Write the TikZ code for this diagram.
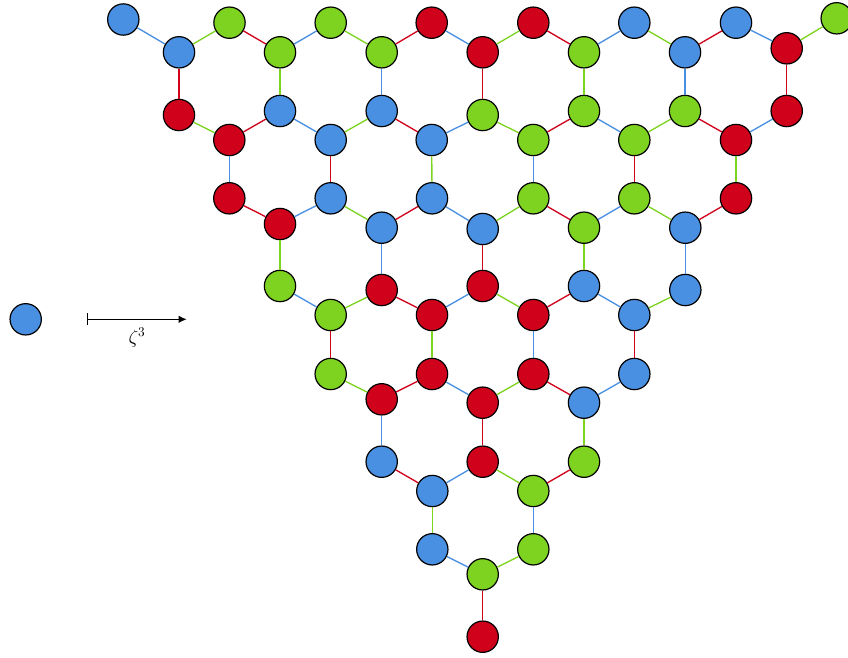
\documentclass[tikz,border=0pt]{standalone}
\usetikzlibrary{arrows.meta}

\definecolor{cblue}{HTML}{4A90E2}
\definecolor{cgreen}{HTML}{7ED321}
\definecolor{cred}{HTML}{D0021B}

\tikzset{
  site/.style={circle, draw=black, line width=0.9pt, minimum size=23.5pt, inner sep=0pt},
  bond/.style={line width=1pt},
}

\begin{document}
\begin{tikzpicture}[x=0.75pt, y=-0.75pt]
  \useasboundingbox (0,0) rectangle (848,657);

  % the lone site and the map
  \node[site, fill=cblue] (seed) at (25.7,319.3) {};
  \coordinate (mapfrom) at (87.3,319.3);
  \coordinate (mapto) at (186.7,319.3);
  \draw[line width=0.8pt, {Bar[width=9pt]}-{Latex[length=6pt,width=5.5pt]}] (mapfrom) -- node[below=3pt, font=\Large] {$\zeta^3$} (mapto);

  % sites of the patch: column/row/x/y/colour
  \foreach \c/\r/\x/\y/\col in {
      0/0/123.3/19.5/cblue, 2/0/229.5/22.7/cgreen, 4/0/330.7/22.7/cgreen, 6/0/431.7/22.7/cred,
      8/0/533.3/22.7/cred, 10/0/634.3/22.7/cblue, 12/0/736/22.7/cblue, 14/0/836.7/18.3/cgreen,
      1/1/179/52.3/cblue, 3/1/280/52.3/cgreen, 5/1/381.7/52.3/cgreen, 7/1/482.7/52.3/cred,
      9/1/584/52.3/cgreen, 11/1/685/52.3/cblue, 13/1/786.7/48.3/cred,
      1/2/179/115/cred, 3/2/280/111/cblue, 5/2/381.7/111/cblue, 7/2/482.7/115/cgreen,
      9/2/584/111/cgreen, 11/2/685/111/cgreen, 13/2/786.7/111/cred,
      2/3/229.3/140/cred, 4/3/330.7/140/cblue, 6/3/431.7/140/cblue, 8/3/533.3/140/cgreen,
      10/3/634.3/140/cgreen, 12/3/736/140/cred,
      2/4/229.3/198.3/cred, 4/4/330.7/198.3/cblue, 6/4/432/198.3/cblue, 8/4/533.3/198.3/cgreen,
      10/4/634.3/198.3/cgreen, 12/4/736/198.3/cred,
      3/5/280/224/cred, 5/5/381.7/227.7/cblue, 7/5/482.7/229/cblue, 9/5/584/227.7/cgreen,
      11/5/685.3/227.7/cblue,
      3/6/280/286/cgreen, 5/6/381.7/290/cred, 7/6/482.7/286/cred, 9/6/584/286/cblue,
      11/6/685.3/290/cblue,
      4/7/330.7/315/cgreen, 6/7/432/315/cred, 8/7/533.3/315/cred, 10/7/634.3/315/cblue,
      4/8/330.7/374/cgreen, 6/8/432/374/cred, 8/8/533.3/374/cred, 10/8/634.3/374/cblue,
      5/9/381.7/399.3/cred, 7/9/482.7/402.7/cred, 9/9/584/402.7/cblue,
      5/10/381.7/461.7/cblue, 7/10/482.7/461.7/cred, 9/10/584/461.7/cgreen,
      6/11/432.3/491/cblue, 8/11/533.3/491/cgreen,
      6/12/432.3/549.3/cblue, 8/12/533.3/549.3/cgreen,
      7/13/482.7/574.3/cgreen,
      7/14/482.7/636.7/cred}
    \node[site, fill=\col] (v\c-\r) at (\x,\y) {};

  % bonds
  \foreach \a/\b/\col in {
      v0-0/v1-1/cblue, v2-0/v1-1/cgreen, v2-0/v3-1/cred, v4-0/v3-1/cblue, v4-0/v5-1/cgreen,
      v6-0/v5-1/cred, v6-0/v7-1/cblue, v8-0/v7-1/cgreen, v8-0/v9-1/cred, v10-0/v9-1/cblue,
      v10-0/v11-1/cgreen, v12-0/v11-1/cred, v12-0/v13-1/cblue, v14-0/v13-1/cgreen,
      v1-1/v1-2/cred, v3-1/v3-2/cgreen, v5-1/v5-2/cblue, v7-1/v7-2/cred, v9-1/v9-2/cgreen,
      v11-1/v11-2/cblue, v13-1/v13-2/cred,
      v1-2/v2-3/cgreen, v3-2/v2-3/cred, v3-2/v4-3/cblue, v5-2/v4-3/cgreen, v5-2/v6-3/cred,
      v7-2/v6-3/cblue, v7-2/v8-3/cgreen, v9-2/v8-3/cred, v9-2/v10-3/cblue, v11-2/v10-3/cgreen,
      v11-2/v12-3/cred, v13-2/v12-3/cblue,
      v2-3/v2-4/cblue, v4-3/v4-4/cred, v6-3/v6-4/cgreen, v8-3/v8-4/cblue, v10-3/v10-4/cred,
      v12-3/v12-4/cgreen,
      v2-4/v3-5/cred, v4-4/v3-5/cblue, v4-4/v5-5/cgreen, v6-4/v5-5/cred, v6-4/v7-5/cblue,
      v8-4/v7-5/cgreen, v8-4/v9-5/cred, v10-4/v9-5/cblue, v10-4/v11-5/cgreen, v12-4/v11-5/cred,
      v3-5/v3-6/cgreen, v5-5/v5-6/cblue, v7-5/v7-6/cred, v9-5/v9-6/cgreen, v11-5/v11-6/cblue,
      v3-6/v4-7/cblue, v5-6/v4-7/cgreen, v5-6/v6-7/cred, v7-6/v6-7/cblue, v7-6/v8-7/cgreen,
      v9-6/v8-7/cred, v9-6/v10-7/cblue, v11-6/v10-7/cgreen,
      v4-7/v4-8/cred, v6-7/v6-8/cgreen, v8-7/v8-8/cblue, v10-7/v10-8/cred,
      v4-8/v5-9/cgreen, v6-8/v5-9/cred, v6-8/v7-9/cblue, v8-8/v7-9/cgreen, v8-8/v9-9/cred,
      v10-8/v9-9/cblue,
      v5-9/v5-10/cblue, v7-9/v7-10/cred, v9-9/v9-10/cgreen,
      v5-10/v6-11/cred, v7-10/v6-11/cblue, v7-10/v8-11/cgreen, v9-10/v8-11/cred,
      v6-11/v6-12/cgreen, v8-11/v8-12/cblue,
      v6-12/v7-13/cblue, v8-12/v7-13/cgreen,
      v7-13/v7-14/cred}
    \draw[bond, \col] (\a) -- (\b);
\end{tikzpicture}
\end{document}
